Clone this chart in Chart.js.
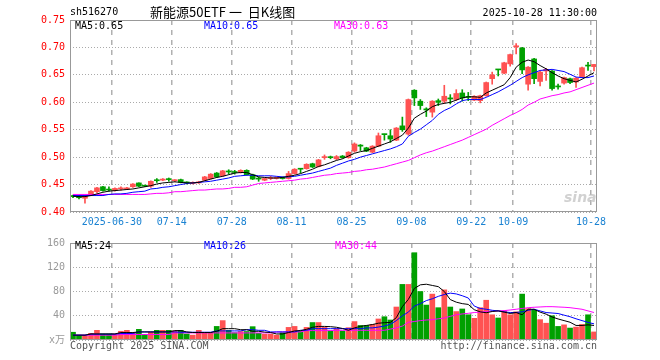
<!DOCTYPE html>
<html>
<head>
<meta charset="utf-8">
<script src="https://cdn.jsdelivr.net/npm/chart.js@4.4.1/dist/chart.umd.min.js"></script>
<style>
  body { margin: 0; background: #fff; }
  #wrap { position: relative; width: 660px; height: 360px; font-family: "DejaVu Sans Mono", monospace; font-size: 10px; }
  #wrap canvas { position: absolute; left: 0; }
  .txt { position: absolute; white-space: nowrap; line-height: 12px; }
</style>
</head>
<body>
<div id="wrap">
  <canvas id="kline" width="660" height="232" style="top:0"></canvas>
  <canvas id="vol" width="660" height="128" style="top:232px"></canvas>
  <div class="txt" style="left:70px;top:6px">sh516270</div>
  <div class="txt" style="left:150px;top:4px;font-family:'Noto Sans CJK SC';font-size:13px;line-height:16px">新能源50ETF&nbsp;一&nbsp;&nbsp;日K线图</div>
  <div class="txt" style="right:63px;top:7px">2025-10-28 11:30:00</div>
  <div class="txt" style="left:75px;top:20px;color:#000">MA5:0.65</div>
  <div class="txt" style="left:204px;top:20px;color:#0000ff">MA10:0.65</div>
  <div class="txt" style="left:334px;top:20px;color:#ff00ff">MA30:0.63</div>
  <div class="txt" style="left:75px;top:240px;color:#000">MA5:24</div>
  <div class="txt" style="left:204px;top:240px;color:#0000ff">MA10:26</div>
  <div class="txt" style="left:335px;top:240px;color:#ff00ff">MA30:44</div>
  <div class="txt" style="left:564px;top:189px;font-family:'DejaVu Sans';font-style:italic;font-weight:bold;font-size:14px;line-height:16px;color:rgba(190,190,190,0.7)">sina</div>
  <div class="txt" style="left:70px;top:340px;color:#555">Copyright 2025 SINA.COM</div>
  <div class="txt" style="right:63px;top:340px;color:#555">http://finance.sina.com.cn</div>
</div>
<script>
const dates = [
  "2025-06-19","2025-06-20","2025-06-23","2025-06-24","2025-06-25","2025-06-26","2025-06-27","2025-06-30",
  "2025-07-01","2025-07-02","2025-07-03","2025-07-04","2025-07-07","2025-07-08","2025-07-09","2025-07-10","2025-07-11",
  "2025-07-14","2025-07-15","2025-07-16","2025-07-17","2025-07-18","2025-07-21","2025-07-22","2025-07-23","2025-07-24","2025-07-25",
  "2025-07-28","2025-07-29","2025-07-30","2025-07-31",
  "2025-08-01","2025-08-04","2025-08-05","2025-08-06","2025-08-07","2025-08-08","2025-08-11","2025-08-12","2025-08-13","2025-08-14","2025-08-15",
  "2025-08-18","2025-08-19","2025-08-20","2025-08-21","2025-08-22","2025-08-25","2025-08-26","2025-08-27","2025-08-28","2025-08-29",
  "2025-09-01","2025-09-02","2025-09-03","2025-09-04","2025-09-05","2025-09-08","2025-09-09","2025-09-10","2025-09-11","2025-09-12",
  "2025-09-15","2025-09-16","2025-09-17","2025-09-18","2025-09-19","2025-09-22","2025-09-23","2025-09-24","2025-09-25","2025-09-26",
  "2025-09-29","2025-09-30",
  "2025-10-09","2025-10-10","2025-10-13","2025-10-14","2025-10-15","2025-10-16","2025-10-17","2025-10-20","2025-10-21","2025-10-22",
  "2025-10-23","2025-10-24","2025-10-27","2025-10-28"
];

const tickDates = ["2025-06-30","2025-07-14","2025-07-28","2025-08-11","2025-08-25","2025-09-08","2025-09-22","2025-10-09","2025-10-28"];
const tickText = ["2025-06-30","07-14","07-28","08-11","08-25","09-08","09-22","10-09","10-28"];

const opens = [
  0.430,0.427,0.425,0.431,0.437,0.446,0.441,0.439,0.442,0.442,0.446,0.453,0.448,0.447,0.458,0.458,0.460,0.457,0.459,0.454,
  0.452,0.453,0.458,0.461,0.471,0.466,0.474,0.473,0.472,0.476,0.468,0.461,0.458,0.461,0.461,0.463,0.461,0.470,0.479,0.479,
  0.488,0.483,0.499,0.500,0.497,0.502,0.499,0.511,0.522,0.517,0.509,0.520,0.542,0.539,0.531,0.557,0.542,0.622,0.602,0.588,
  0.582,0.603,0.602,0.608,0.605,0.617,0.610,0.604,0.603,0.612,0.643,0.660,0.653,0.670,0.701,0.699,0.633,0.679,0.638,0.657,
  0.657,0.629,0.635,0.643,0.637,0.646,0.667,0.665
];
const closes = [
  0.428,0.426,0.429,0.438,0.444,0.439,0.440,0.443,0.444,0.444,0.451,0.447,0.447,0.456,0.457,0.460,0.459,0.458,0.454,0.453,
  0.454,0.455,0.464,0.469,0.464,0.475,0.473,0.472,0.476,0.468,0.460,0.460,0.461,0.462,0.463,0.461,0.470,0.478,0.478,0.487,
  0.482,0.495,0.501,0.499,0.501,0.499,0.509,0.524,0.520,0.511,0.520,0.539,0.541,0.533,0.553,0.550,0.605,0.608,0.594,0.586,
  0.602,0.600,0.611,0.606,0.616,0.608,0.609,0.611,0.612,0.636,0.650,0.659,0.672,0.687,0.703,0.659,0.664,0.643,0.655,0.660,
  0.625,0.628,0.645,0.636,0.644,0.663,0.666,0.669
];
const highs = [
  0.431,0.430,0.430,0.439,0.445,0.447,0.446,0.444,0.446,0.445,0.452,0.453,0.449,0.457,0.461,0.461,0.462,0.459,0.460,0.455,
  0.455,0.456,0.465,0.470,0.472,0.476,0.477,0.476,0.477,0.477,0.469,0.464,0.462,0.465,0.464,0.464,0.474,0.479,0.479,0.488,
  0.489,0.496,0.504,0.502,0.503,0.503,0.510,0.526,0.523,0.518,0.521,0.544,0.542,0.550,0.554,0.573,0.606,0.623,0.605,0.590,
  0.603,0.606,0.631,0.614,0.623,0.623,0.618,0.612,0.613,0.637,0.655,0.660,0.673,0.688,0.707,0.700,0.665,0.680,0.657,0.662,
  0.658,0.633,0.646,0.644,0.645,0.664,0.673,0.669
];
const lows = [
  0.426,0.424,0.416,0.430,0.435,0.438,0.438,0.438,0.440,0.441,0.445,0.446,0.446,0.445,0.454,0.457,0.456,0.455,0.453,0.451,
  0.451,0.452,0.457,0.460,0.463,0.465,0.469,0.469,0.471,0.467,0.459,0.456,0.457,0.459,0.460,0.460,0.460,0.469,0.471,0.478,
  0.481,0.482,0.496,0.497,0.495,0.498,0.498,0.509,0.512,0.510,0.508,0.519,0.531,0.527,0.530,0.547,0.540,0.594,0.587,0.574,
  0.573,0.594,0.598,0.597,0.603,0.602,0.603,0.603,0.599,0.611,0.633,0.648,0.652,0.666,0.688,0.652,0.622,0.634,0.630,0.640,
  0.622,0.624,0.633,0.634,0.627,0.645,0.658,0.657
];

const ma5 = [
  0.429,0.428,0.428,0.430,0.433,0.436,0.438,0.439,0.440,0.441,0.442,0.444,0.446,0.448,0.451,0.453,0.454,0.455,0.454,0.453,
  0.453,0.454,0.457,0.460,0.463,0.465,0.468,0.471,0.472,0.472,0.468,0.464,0.463,0.462,0.462,0.463,0.465,0.467,0.470,0.474,
  0.478,0.483,0.486,0.490,0.494,0.497,0.502,0.507,0.510,0.512,0.516,0.520,0.524,0.528,0.534,0.540,0.553,0.571,0.578,0.584,
  0.592,0.596,0.598,0.600,0.604,0.608,0.610,0.610,0.609,0.617,0.622,0.627,0.632,0.645,0.664,0.673,0.677,0.674,0.667,0.661,
  0.654,0.648,0.643,0.640,0.637,0.642,0.648,0.654
];
const ma10 = [
  0.430,0.430,0.430,0.430,0.430,0.430,0.432,0.433,0.433,0.434,0.436,0.437,0.438,0.442,0.443,0.445,0.446,0.448,0.450,0.452,
  0.453,0.454,0.455,0.456,0.458,0.460,0.462,0.465,0.466,0.467,0.467,0.466,0.466,0.466,0.465,0.464,0.464,0.465,0.467,0.469,
  0.471,0.474,0.477,0.480,0.485,0.489,0.493,0.496,0.500,0.503,0.506,0.509,0.512,0.515,0.519,0.524,0.538,0.545,0.551,0.559,
  0.567,0.578,0.585,0.590,0.597,0.603,0.605,0.605,0.605,0.609,0.614,0.619,0.625,0.631,0.638,0.645,0.650,0.654,0.658,0.659,
  0.660,0.658,0.656,0.651,0.646,0.645,0.645,0.648
];
const ma30 = [
  0.432,0.432,0.432,0.432,0.432,0.432,0.432,0.432,0.432,0.432,0.432,0.432,0.432,0.433,0.434,0.434,0.435,0.437,0.437,0.438,
  0.439,0.440,0.440,0.441,0.442,0.442,0.443,0.445,0.445,0.446,0.449,0.452,0.453,0.454,0.455,0.456,0.457,0.458,0.460,0.461,
  0.463,0.465,0.467,0.468,0.470,0.471,0.472,0.474,0.475,0.477,0.478,0.480,0.482,0.485,0.488,0.491,0.494,0.499,0.504,0.508,
  0.511,0.515,0.519,0.523,0.527,0.531,0.536,0.541,0.546,0.551,0.558,0.564,0.570,0.576,0.581,0.587,0.595,0.600,0.606,0.609,
  0.612,0.614,0.617,0.619,0.623,0.627,0.631,0.635
];

// volume, x10k
const volumes = [
  12.8,8,8,11,16,10,10,10,14.4,16,12,17.6,9,13,16,16,16,15,16,10,
  8,16,12,12,22.4,32,16,12,14,14,22,11,9.5,9.5,8,12,20.8,22.4,14,20.8,
  28.8,28.8,20.8,15,18.7,14.9,20.3,30.4,24,24,25.6,34.7,38.4,33,54.4,91.7,91.7,144,80,57.6,
  75.7,53.3,82.7,54.4,46.9,51.2,41.6,35.7,53.3,65.6,41.6,36.3,48,41.6,46.4,75.7,51.7,49,33.6,27.7,
  40,22.4,25,19.7,21.3,25.6,41.6,13.3
];
const volMa5 = [
  8,8,8,10,10,10,10,10,12.3,12.3,12.3,13.3,13.3,13.3,13.3,13.3,13.3,15.5,15.5,13.3,
  12.3,12.3,12.3,12.3,14.4,18.7,18.7,18.7,17,17,14.4,14.4,13,12.3,10,10,12.3,15,15.5,17.6,
  21,22.4,22.4,22,21,19,16,20,22.4,24,25.5,27.7,28.5,29,37,55,67,85,91,92,
  90,88,80,66.7,62.4,60,58.7,50,46.4,45,47,48,46,43.7,45.3,41.6,50.7,50.7,46,42.7,
  38,34.7,32,29.3,24,24,25,24
];
const volMa10 = [
  8,8,8,9.6,9.6,9.6,9.6,9.6,10.7,10.7,10.7,13.3,13.3,13.3,13.3,13.3,13.3,13.3,12.8,12.8,
  12.8,12.8,12.8,12.8,15,15,15,15,15,17,17,16,16,13.3,13.3,13.3,13.3,13.3,16,16,
  18.7,18.7,18.7,18.7,18.7,18.7,18.7,18.7,18.7,20,20,21.3,23,26,32,40,46,56,60,65,
  68,72,75,77.3,76,73,69.3,56,52,50.7,49,48,46.5,45.3,45.5,46.4,49,50.7,48,45.3,
  44.5,43.7,41,38.4,35,32,29,26.7
];
const volMa30 = [
  8,8,8,8,8,8,8,8,9,9,9,9,9,9,9,9,9,11.7,11.7,11.7,
  11.7,11.7,11.7,11.7,11.7,11.7,11.7,11.7,11.7,11.7,11.7,11.7,11.7,11.7,13.3,13.3,13.3,13.3,13.3,15.5,
  15.5,15.5,15.5,15.5,16,16,16,16,16,16,16,16,16,18,20,23,29.3,30.5,32,33,
  33.5,35,36.3,39,41.6,43,44,45.3,46,47,47.5,48,48.5,49.5,50.7,52,53.3,54,54.5,55,
  55,54.5,54,53.3,52,50.7,48,45.3
];

const UP = "#ff5252";
const DOWN = "#00a000";
const FONT = "'DejaVu Sans Mono', 'Noto Sans CJK SC', monospace";

const colors = closes.map((c, i) => (c >= opens[i] ? UP : DOWN));
const bodies = opens.map((o, i) => [Math.min(o, closes[i]), Math.max(o, closes[i])]);
const wicks = lows.map((l, i) => [l, highs[i]]);
const tickIdx = tickDates.map((d) => dates.indexOf(d));

// grey frame round the plot area
const frame = {
  id: "frame",
  afterDraw(chart) {
    const a = chart.chartArea;
    const ctx = chart.ctx;
    ctx.save();
    ctx.strokeStyle = "#999";
    ctx.lineWidth = 1;
    ctx.strokeRect(Math.round(a.left) + 0.5, Math.round(a.top) + 0.5, Math.round(a.right - a.left) - 1, Math.round(a.bottom - a.top) - 1);
    ctx.restore();
  },
};

function xScale(showLabels) {
  return {
    offset: true,
    grid: {
      offset: true,
      drawTicks: false,
      lineWidth: 1.5,
      color: (ctx) => (tickIdx.includes(ctx.index) ? "#b0b0b0" : "rgba(0,0,0,0)"),
    },
    border: { display: false, dash: [5, 5] },
    ticks: {
      display: showLabels,
      autoSkip: false,
      maxRotation: 0,
      minRotation: 0,
      padding: 4,
      labelOffset: -3,
      color: "#1a82d2",
      font: { family: FONT, size: 10 },
      callback: (v, i) => tickText[tickIdx.indexOf(i)] ?? "",
    },
    afterFit: (s) => { s.height = 20; },
  };
}

new Chart(document.getElementById("kline"), {
  type: "bar",
  data: {
    labels: dates,
    datasets: [
      { type: "line", data: ma5, borderColor: "#000", borderWidth: 1, pointRadius: 0, order: 0 },
      { type: "line", data: ma10, borderColor: "#0000ff", borderWidth: 1, pointRadius: 0, order: 0 },
      { type: "line", data: ma30, borderColor: "#ff00ff", borderWidth: 1, pointRadius: 0, order: 0 },
      { data: bodies, backgroundColor: colors, barThickness: 5, minBarLength: 1, grouped: false, order: 1 },
      { data: wicks, backgroundColor: colors, barThickness: 1, grouped: false, order: 2 },
    ],
  },
  options: {
    responsive: false,
    animation: false,
    layout: { padding: { top: 20, right: 63, left: 0, bottom: 0 } },
    plugins: { legend: { display: false }, tooltip: { enabled: false } },
    scales: {
      x: xScale(true),
      y: {
        min: 0.4,
        max: 0.75,
        grid: { color: "#aaa", drawTicks: false },
        border: { display: false, dash: [1, 2] },
        ticks: {
          stepSize: 0.05,
          padding: 5,
          color: "#ff0000",
          font: { family: FONT, size: 10 },
          callback: (v) => v.toFixed(2),
        },
        afterFit: (s) => { s.width = 70; },
      },
    },
  },
  plugins: [frame],
});

new Chart(document.getElementById("vol"), {
  type: "bar",
  data: {
    labels: dates,
    datasets: [
      { type: "line", data: volMa5, borderColor: "#000", borderWidth: 1, pointRadius: 0, order: 0 },
      { type: "line", data: volMa10, borderColor: "#0000ff", borderWidth: 1, pointRadius: 0, order: 0 },
      { type: "line", data: volMa30, borderColor: "#ff00ff", borderWidth: 1, pointRadius: 0, order: 0 },
      { data: volumes, backgroundColor: colors, barThickness: 5, order: 1 },
    ],
  },
  options: {
    responsive: false,
    animation: false,
    layout: { padding: { top: 8, right: 63, left: 0, bottom: 0 } },
    plugins: { legend: { display: false }, tooltip: { enabled: false } },
    scales: {
      x: xScale(false),
      y: {
        min: 0,
        max: 160,
        grid: { color: "#aaa", drawTicks: false },
        border: { display: false, dash: [1, 2] },
        ticks: {
          stepSize: 40,
          padding: 5,
          color: "#999",
          font: { family: FONT, size: 10 },
          callback: (v) => (v === 0 ? "x万" : v),
        },
        afterFit: (s) => { s.width = 70; },
      },
    },
  },
  plugins: [frame],
});
</script>
</body>
</html>
